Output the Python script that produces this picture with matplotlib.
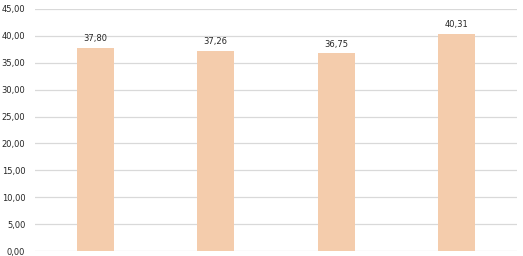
import matplotlib
matplotlib.use("Agg")
import matplotlib.pyplot as plt

categories = ["A", "B", "C", "D"]
values = [37.80, 37.26, 36.75, 40.31]
labels = ["37,80", "37,26", "36,75", "40,31"]
yticks = [0, 5, 10, 15, 20, 25, 30, 35, 40, 45]
ytick_labels = ["0,00", "5,00", "10,00", "15,00", "20,00", "25,00", "30,00", "35,00", "40,00", "45,00"]

fig = plt.figure(figsize=(5.23, 2.56), dpi=100)
ax = fig.add_axes([35/523, 1-251/256, (517-35)/523, (251-9)/256])
x = range(len(categories))
bars = ax.bar(x, values, width=0.31, color="#F4CCAC", zorder=2)
for xi, v, lab in zip(x, values, labels):
    ax.text(xi, v + 0.9, lab, ha="center", va="bottom", fontsize=6.0, color="#262626")
ax.set_xlim(-0.5, len(categories) - 0.5)
ax.set_ylim(0, 45)
ax.set_yticks(yticks)
ax.set_yticklabels(ytick_labels, fontsize=6.0, color="#262626")
ax.set_xticks([])
ax.tick_params(axis="y", length=0, pad=7)
ax.grid(axis="y", color="#D9D9D9", linewidth=0.9, zorder=0)
for s in ax.spines.values():
    s.set_visible(False)
fig.savefig("out.png", dpi=100)
